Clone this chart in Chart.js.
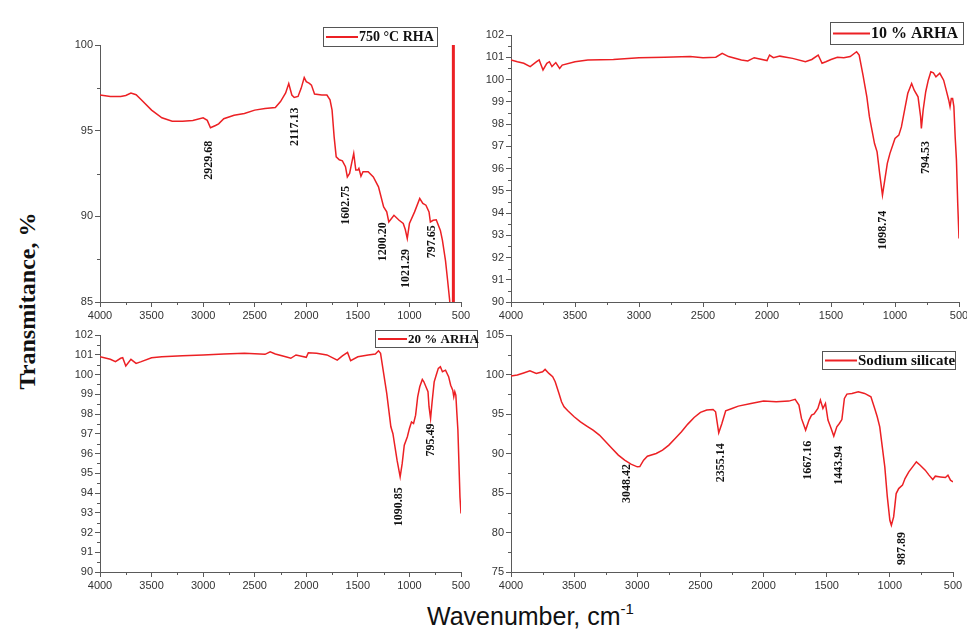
<!DOCTYPE html>
<html><head><meta charset="utf-8">
<script src="https://cdn.jsdelivr.net/npm/chart.js@4/dist/chart.umd.min.js"></script>
<style>
html,body{margin:0;padding:0;background:#fff;width:967px;height:631px;overflow:hidden;position:relative}
.panel{position:absolute}
#ytitle{position:absolute;left:27px;top:301px;transform:translate(-50%,-50%) rotate(-90deg);font:bold 24px "Liberation Serif";white-space:nowrap;color:#111;line-height:24px}
#xtitle{position:absolute;left:427px;top:604px;font:25px "Liberation Sans";color:#111;white-space:nowrap;line-height:25px}
#xtitle .sup{font-size:15px;vertical-align:baseline;position:relative;top:-11px}
</style></head>
<body>
<div id="ytitle">Transmitance, %</div>
<div id="xtitle">Wavenumber, cm<span class="sup">-1</span></div>
<script>
// ---------- DATA ----------
const xMajorStep = 500;
const xMinorStep = 250;
// Panel 1: 750 °C RHA
const rha750Wn = [4000,3900,3800,3750,3700,3650,3600,3500,3400,3300,3200,3100,3000,2960,2929,2880,2850,2800,2700,2600,2500,2400,2300,2250,2200,2170,2140,2117,2080,2050,2020,2000,1970,1950,1920,1850,1800,1770,1750,1730,1710,1680,1650,1620,1602,1580,1560,1540,1520,1500,1490,1470,1450,1400,1350,1300,1250,1220,1200,1150,1100,1060,1040,1021,1000,950,900,870,840,810,797,770,740,700,680,650,630,610,600];
const rha750T  = [97.08,97.0,97.0,97.05,97.2,97.1,96.8,96.2,95.75,95.55,95.55,95.6,95.75,95.6,95.17,95.3,95.4,95.7,95.9,96.0,96.2,96.3,96.35,96.7,97.2,97.75,97.08,96.94,97.0,97.47,98.1,97.86,97.76,97.66,97.14,97.08,97.08,96.8,96.2,94.64,93.47,93.3,93.24,92.9,92.3,92.5,93.1,93.67,92.7,92.7,92.8,92.34,92.6,92.6,92.3,91.72,90.55,90.26,89.67,90.06,89.77,89.58,89.23,88.7,89.58,90.26,91.04,90.75,90.65,90.26,89.67,89.77,89.8,89.18,88.6,87.4,86.27,85.1,84.0];
const rha750SpikeWn = [574,574];
const rha750SpikeT  = [84,101];
const rha750PeakText = ['2929.68','2117.13','1602.75','1200.20','1021.29','797.65'];
const rha750PeakWn   = [2943,2109,1615,1253,1033,784];
const rha750PeakT    = [93.28,95.23,90.65,88.51,86.95,88.51];

// Panel 2: 10 % ARHA
const arha10Wn = [4000,3950,3900,3850,3800,3780,3750,3720,3700,3680,3650,3620,3600,3500,3400,3200,3000,2800,2600,2500,2400,2350,2300,2200,2150,2100,2000,1980,1950,1900,1800,1700,1650,1600,1570,1540,1500,1450,1400,1350,1300,1280,1250,1220,1200,1180,1160,1140,1120,1098,1080,1060,1040,1000,970,950,920,900,870,850,820,800,794,780,760,740,720,700,680,650,620,600,580,570,560,550,540,530,520,510,500];
const arha10T  = [100.88,100.8,100.73,100.58,100.8,100.88,100.43,100.73,100.8,100.58,100.76,100.5,100.65,100.8,100.88,100.9,100.98,101.0,101.03,100.98,101.0,101.18,101.03,100.88,100.83,100.98,100.85,101.1,100.98,101.05,100.95,100.8,100.9,101.1,100.73,100.8,100.9,101.0,100.98,101.03,101.25,101.1,100.2,99.22,98.33,97.72,97.12,96.75,95.78,94.8,95.48,96.23,96.67,97.35,97.5,97.87,98.78,99.38,99.82,99.52,99.22,98.33,97.8,98.63,99.45,99.97,100.35,100.3,100.12,100.28,99.97,99.52,99.07,98.78,99.15,99.15,98.78,97.43,96.38,94.43,92.85];
const arha10PeakText = ['1098.74','794.53'];
const arha10PeakWn   = [1096,758];
const arha10PeakT    = [93.23,96.5];

// Panel 3: 20 % ARHA
const arha20Wn = [4000,3900,3850,3800,3780,3750,3700,3650,3600,3500,3400,3200,3000,2800,2600,2400,2350,2300,2200,2150,2100,2000,1980,1900,1800,1700,1650,1600,1570,1500,1400,1330,1300,1280,1250,1220,1200,1180,1160,1140,1120,1090,1070,1050,1020,1000,980,960,940,920,900,875,860,840,820,810,795,780,760,740,720,700,680,650,620,600,580,570,560,550,540,530,520,510,500];
const arha20T  = [100.9,100.77,100.65,100.82,100.85,100.43,100.77,100.56,100.65,100.85,100.9,100.95,100.99,101.04,101.07,101.02,101.15,101.04,100.9,100.82,100.99,100.87,101.1,101.07,100.99,100.73,100.94,101.12,100.7,100.9,100.99,101.04,101.2,101.07,100.06,99.04,98.2,97.35,97.0,96.34,95.66,94.82,95.5,96.42,96.85,97.27,97.6,97.52,97.94,98.87,99.38,99.75,99.63,99.38,99.13,98.37,97.77,98.62,99.63,99.97,100.31,100.39,100.14,100.22,99.89,99.46,99.21,98.87,99.13,98.96,98.03,97.18,95.5,93.8,92.96];
const arha20PeakText = ['1090.85','795.49'];
const arha20PeakWn   = [1098,794];
const arha20PeakT    = [93.3,96.68];

// Panel 4: Sodium silicate
const silicateWn = [4000,3950,3900,3850,3800,3750,3730,3700,3670,3650,3620,3600,3580,3550,3500,3450,3400,3350,3300,3250,3200,3150,3100,3050,3000,2980,2950,2920,2850,2800,2750,2700,2650,2600,2550,2500,2450,2400,2380,2355,2330,2300,2250,2200,2100,2000,1900,1800,1750,1720,1700,1667,1640,1620,1600,1570,1550,1530,1510,1490,1470,1444,1420,1400,1380,1360,1340,1300,1250,1200,1150,1120,1100,1080,1060,1040,1020,1000,988,970,950,930,900,880,850,820,790,760,720,690,660,640,600,560,540,520,500];
const silicateT  = [99.8,99.93,100.2,100.48,100.14,100.35,100.65,100.14,99.72,99.08,97.6,96.55,95.92,95.4,94.65,94.0,93.47,92.96,92.33,91.48,90.64,89.8,89.16,88.65,88.31,88.35,89.16,89.66,90.0,90.42,91.06,91.9,92.75,93.72,94.56,95.2,95.5,95.58,95.28,92.62,93.8,95.41,95.7,96.0,96.34,96.63,96.55,96.63,96.85,96.13,94.44,92.96,94.23,94.86,95.0,95.7,96.76,95.7,96.34,94.23,93.38,92.2,93.38,93.8,94.3,96.97,97.52,97.6,97.82,97.6,97.18,95.7,94.65,93.38,90.85,88.31,84.5,81.55,80.92,81.97,84.93,85.56,85.99,86.83,87.68,88.31,88.94,88.52,87.89,87.26,86.71,87.13,87.04,86.96,87.26,86.62,86.41];
const silicatePeakText = ['3048.42','2355.14','1667.16','1443.94','987.89'];
const silicatePeakWn   = [3083,2337,1652,1404,906];
const silicatePeakT    = [86.2,88.82,89.16,88.52,77.96];

// ---------- RENDER ----------
const RED = 'rgb(236,32,36)';
const AX = '#5a5a5a';
const pts = (xs, ys) => xs.map((x, i) => ({x, y: ys[i]}));
const zip3 = (t, xs, ys) => t.map((s, i) => ({text: s, x: xs[i], y: ys[i]}));

const peakPlugin = {
  id: 'peaks',
  afterDatasetsDraw(chart, args, opts) {
    const {ctx, scales: {x, y}} = chart;
    ctx.save();
    ctx.font = 'bold 12px "Liberation Serif"';
    ctx.fillStyle = '#111';
    ctx.textAlign = 'center';
    ctx.textBaseline = 'middle';
    (opts.items || []).forEach(p => {
      ctx.save();
      ctx.translate(x.getPixelForValue(p.x), y.getPixelForValue(p.y));
      ctx.rotate(-Math.PI / 2);
      ctx.fillText(p.text, 0, 0);
      ctx.restore();
    });
    ctx.restore();
  }
};
const minorTickPlugin = {
  id: 'minorTicks',
  afterDraw(chart, args, o) {
    const {ctx, scales: {x, y}, chartArea: a} = chart;
    ctx.save();
    ctx.strokeStyle = AX;
    ctx.lineWidth = 1;
    ctx.beginPath();
    for (let v = x.min; v <= x.max + 1e-9; v += o.xStep) {
      if (Math.abs(v / o.xMajor - Math.round(v / o.xMajor)) < 1e-6) continue;
      const px = Math.round(x.getPixelForValue(v)) + 0.5;
      ctx.moveTo(px, a.bottom); ctx.lineTo(px, a.bottom + 3);
    }
    for (let v = y.min; v <= y.max + 1e-9; v += o.yStep) {
      if (Math.abs(v / o.yMajor - Math.round(v / o.yMajor)) < 1e-6) continue;
      const py = Math.round(y.getPixelForValue(v)) + 0.5;
      ctx.moveTo(a.left - 3, py); ctx.lineTo(a.left, py);
    }
    ctx.stroke();
    ctx.restore();
  }
};
const boxLegendPlugin = {
  id: 'boxLegend',
  afterDraw(chart, args, o) {
    if (!o.text) return;
    const ctx = chart.ctx;
    const [bx, by, bw, bh] = o.box;
    ctx.save();
    ctx.fillStyle = '#fff';
    ctx.fillRect(bx, by, bw, bh);
    ctx.strokeStyle = '#555';
    ctx.lineWidth = 1;
    ctx.strokeRect(bx + 0.5, by + 0.5, bw, bh);
    ctx.strokeStyle = RED;
    ctx.lineWidth = 2;
    ctx.beginPath();
    ctx.moveTo(bx + 3, by + bh / 2 + 0.5);
    ctx.lineTo(bx + o.lineLen, by + bh / 2 + 0.5);
    ctx.stroke();
    ctx.fillStyle = '#111';
    ctx.font = 'bold ' + o.size + 'px "Liberation Serif"';
    ctx.textBaseline = 'middle';
    ctx.fillText(o.text, bx + o.lineLen + 1, by + bh / 2 + 1);
    ctx.restore();
  }
};

function makePanel(rect, datasets, yMin, yMax, yMinor, yMajor, peaks, legend) {
  const [L, T, R, B] = rect;
  const div = document.createElement('div');
  div.className = 'panel';
  const cl = L - 45, ct = T - 20;
  div.style.left = cl + 'px';
  div.style.top = ct + 'px';
  div.style.width = (R - L + 65) + 'px';
  div.style.height = (B - T + 45) + 'px';
  const c = document.createElement('canvas');
  div.appendChild(c);
  document.body.appendChild(div);
  new Chart(c, {
    type: 'line',
    data: {datasets},
    options: {
      responsive: true, maintainAspectRatio: false, animation: false, devicePixelRatio: 1,
      layout: {padding: {left: 0, top: 20, right: 20, bottom: 0}},
      elements: {point: {radius: 0}, line: {tension: 0}},
      plugins: {
        legend: {display: false}, tooltip: {enabled: false},
        peaks: {items: peaks},
        minorTicks: {xStep: xMinorStep, xMajor: xMajorStep, yStep: yMinor, yMajor: yMajor},
        boxLegend: {text: legend.text, size: legend.size, lineLen: legend.lineLen,
          box: [legend.box[0] - cl, legend.box[1] - ct, legend.box[2], legend.box[3]]}
      },
      scales: {
        x: {
          type: 'linear', reverse: true, min: 500, max: 4000,
          afterFit: s => { s.height = 25; s.paddingLeft = 0; s.paddingRight = 0; },
          border: {display: true, color: AX, width: 1},
          grid: {display: true, drawOnChartArea: false, drawTicks: true, tickLength: 5, color: AX},
          ticks: {stepSize: xMajorStep, autoSkip: false, maxRotation: 0, padding: 2, color: '#333',
            font: {family: '"Liberation Sans"', size: 11},
            callback: v => String(Math.round(v))}
        },
        y: {
          min: yMin, max: yMax,
          afterFit: s => { s.width = 45; s.paddingTop = 0; s.paddingBottom = 0; },
          border: {display: true, color: AX, width: 1},
          grid: {display: true, drawOnChartArea: false, drawTicks: true, tickLength: 5, color: AX},
          ticks: {stepSize: yMajor, autoSkip: false, padding: 2, color: '#333',
            font: {family: '"Liberation Sans"', size: 11},
            callback: v => String(Math.round(v))}
        }
      }
    },
    plugins: [minorTickPlugin, peakPlugin, boxLegendPlugin]
  });
}

const lineDs = (xs, ys, w) => ({data: pts(xs, ys), borderColor: RED, borderWidth: w, pointRadius: 0, fill: false});

makePanel([100, 45, 461, 302],
  [lineDs(rha750Wn, rha750T, 1.5), lineDs(rha750SpikeWn, rha750SpikeT, 3)],
  85, 100, 2.5, 5, zip3(rha750PeakText, rha750PeakWn, rha750PeakT),
  {text: '750 °C RHA', size: 14, lineLen: 35, box: [323, 27, 114, 19]});

makePanel([511, 35, 959, 302],
  [lineDs(arha10Wn, arha10T, 1.5)],
  90, 102, 0.5, 1, zip3(arha10PeakText, arha10PeakWn, arha10PeakT),
  {text: '10 % ARHA', size: 16, lineLen: 40, box: [830, 22, 133, 22]});

makePanel([100, 335, 461, 572],
  [lineDs(arha20Wn, arha20T, 1.5)],
  90, 102, 0.5, 1, zip3(arha20PeakText, arha20PeakWn, arha20PeakT),
  {text: '20 % ARHA', size: 13, lineLen: 32, box: [375, 330, 102, 17]});

makePanel([511, 335, 953, 572],
  [lineDs(silicateWn, silicateT, 1.5)],
  75, 105, 2.5, 5, zip3(silicatePeakText, silicatePeakWn, silicatePeakT),
  {text: 'Sodium silicate', size: 15, lineLen: 35, box: [822, 351, 133, 18]});
</script>
</body></html>
